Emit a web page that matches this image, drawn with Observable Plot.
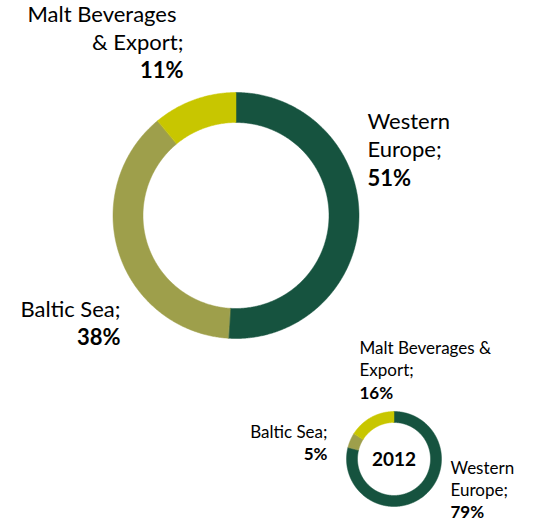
<!DOCTYPE html>
<html><head><meta charset="utf-8">
<script src="https://cdn.jsdelivr.net/npm/d3@7"></script>
<script src="https://cdn.jsdelivr.net/npm/@observablehq/plot@0.6"></script>
<style>body{margin:0;background:#fff}</style>
</head><body><div id="chart"></div>
<script>
// ---- data ----
const categories = ["Western Europe", "Baltic Sea", "Malt Beverages & Export"];
const shareMain = [51, 38, 11];
const share2012 = [79, 5, 16];
const yearLabel = "2012";
// wrapped label text for each category
const mainNameLines = [["Western", "Europe;"], ["Baltic Sea;"], ["Malt Beverages", "& Export;"]];
const smallNameLines = [["Western", "Europe;"], ["Baltic Sea;"], ["Malt Beverages &", "Export;"]];
const colors = ["#16533f", "#9e9f4b", "#c8c600"];

// ---- layout ----
const W = 533, H = 522;
const donuts = [
  {id: "main", values: shareMain, cx: 235.5, cy: 215, rO: 123, rI: 93},
  {id: "small", values: share2012, cx: 393.5, cy: 458.5, rO: 47.5, rI: 36.5}
];
const mainLabelPos = [
  {x: 367, y: 121, anchor: "start", size: 22, lh: 28.5, dx0: 0},
  {x: 120, y: 309, anchor: "end", size: 22, lh: 28, dx0: 0},
  {x: 183, y: 14, anchor: "end", size: 22, lh: 28, dx0: -7}
];
const smallLabelPos = [
  {x: 450, y: 468, anchor: "start", size: 17, lh: 22, dx0: 0},
  {x: 327, y: 432, anchor: "end", size: 17, lh: 22, dx0: 0},
  {x: 359, y: 348, anchor: "start", size: 17, lh: 22.5, dx0: 0}
];

// ---- geometry from data ----
const pts = [];
donuts.forEach(d => {
  const arcs = d3.pie().sort(null)(d.values);
  arcs.forEach((a, i) => {
    const n = Math.max(2, Math.ceil((a.endAngle - a.startAngle) / (Math.PI / 360)));
    const key = d.id + i;
    for (let k = 0; k <= n; k++) {
      const t = a.startAngle + (a.endAngle - a.startAngle) * k / n;
      pts.push({key, cat: categories[i], x: d.cx + d.rO * Math.sin(t), y: d.cy - d.rO * Math.cos(t)});
    }
    for (let k = n; k >= 0; k--) {
      const t = a.startAngle + (a.endAngle - a.startAngle) * k / n;
      pts.push({key, cat: categories[i], x: d.cx + d.rI * Math.sin(t), y: d.cy - d.rI * Math.cos(t)});
    }
  });
});

const texts = [];
function addLabels(nameLines, values, pos) {
  nameLines.forEach((lines, i) => {
    const p = pos[i];
    lines.forEach((s, j) => texts.push({x: p.x + (j === 0 ? p.dx0 : 0), y: p.y + j * p.lh, text: s, anchor: p.anchor, bold: false, size: p.size}));
    texts.push({x: p.x, y: p.y + lines.length * p.lh, text: values[i] + "%", anchor: p.anchor, bold: true, size: p.size});
  });
}
addLabels(mainNameLines, shareMain, mainLabelPos);
addLabels(smallNameLines, share2012, smallLabelPos);

const textMarks = [];
for (const anchor of ["start", "end"]) for (const bold of [false, true]) {
  textMarks.push(Plot.text(texts.filter(t => t.anchor === anchor && t.bold === bold), {
    x: "x", y: "y", text: "text", fontSize: "size", textAnchor: anchor,
    fontWeight: bold ? "bold" : "normal", fill: "#000", lineAnchor: "middle"
  }));
}

const chart = Plot.plot({
  width: W, height: H, margin: 0,
  style: {fontFamily: "Lato, 'Open Sans', sans-serif", background: "#fff"},
  x: {domain: [0, W], range: [0, W], axis: null},
  y: {domain: [0, H], range: [0, H], axis: null},
  color: {domain: categories, range: colors},
  marks: [
    Plot.line(pts, {x: "x", y: "y", z: "key", fill: "cat", stroke: "cat", strokeWidth: 0.5, curve: "linear-closed"}),
    ...textMarks,
    Plot.text([yearLabel], {x: [donuts[1].cx], y: [donuts[1].cy + 1], text: d => d, fontSize: 19, fontWeight: "bold", fill: "#000", lineAnchor: "middle", textAnchor: "middle"})
  ]
});
document.getElementById("chart").appendChild(chart);
</script></body></html>
